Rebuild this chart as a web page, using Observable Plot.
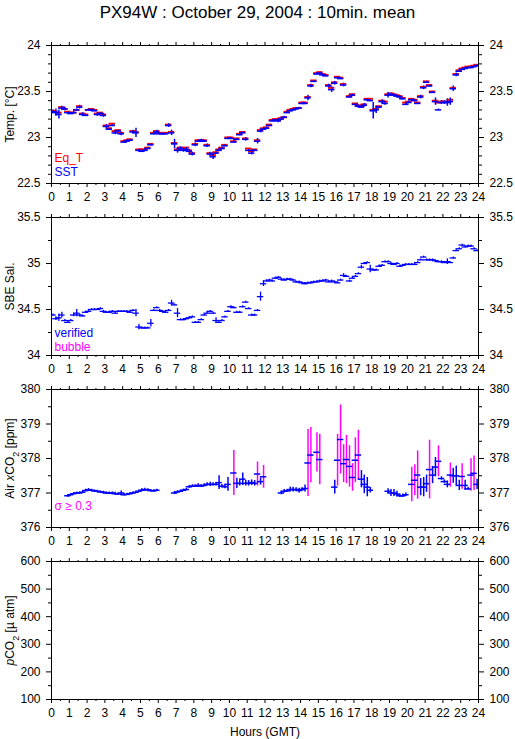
<!DOCTYPE html>
<html><head><meta charset="utf-8">
<script src="https://cdn.jsdelivr.net/npm/d3@7"></script>
<script src="https://cdn.jsdelivr.net/npm/@observablehq/plot@0.6"></script>
<style>
body{margin:0;background:#fff;font-family:"Liberation Sans",Arial,sans-serif;}
#title{height:33px;text-align:center;font-size:17px;line-height:25px;white-space:nowrap;}
svg{display:block}
</style></head><body>
<div id="title">PX94W : October 29, 2004 : 10min. mean</div>
<div id="charts"></div>
<script>
// ---------- tick labels ----------
const hourTicks = [0,1,2,3,4,5,6,7,8,9,10,11,12,13,14,15,16,17,18,19,20,21,22,23,24];
const halfHourTicks = [0.5,1.5,2.5,3.5,4.5,5.5,6.5,7.5,8.5,9.5,10.5,11.5,12.5,13.5,14.5,15.5,16.5,17.5,18.5,19.5,20.5,21.5,22.5,23.5];
const tempTicks = [22.5,23,23.5,24];
const tempMinor = [22.6,22.7,22.8,22.9,23.1,23.2,23.3,23.4,23.6,23.7,23.8,23.9];
const salTicks = [34,34.5,35,35.5];
const salMinor = [34.25,34.75,35.25];
const co2Ticks = [376,377,378,379,380];
const co2Minor = [376.5,377.5,378.5,379.5];
const pco2Ticks = [100,200,300,400,500,600];
const pco2Minor = [150,250,350,450,550];

// ---------- 10-minute sample times (hours GMT) ----------
const sampleHours = d3.range(144).map(i => (i + 0.5) / 6);

// ---------- SST / Eq_T (°C), one row per hour ----------
const sst = [
 23.28,23.27,23.25,23.32,23.31,23.27, 23.26,23.27,23.30,23.33,23.25,23.24,
 23.30,23.30,23.29,23.25,23.26,23.24, 23.12,23.09,23.13,23.05,23.07,23.04,
 22.95,22.96,22.97,23.06,23.05,22.86, 22.85,22.86,22.88,22.92,23.04,23.06,
 23.04,23.04,23.04,23.13,23.05,22.93, 22.86,22.88,22.86,22.87,22.85,22.82,
 22.92,22.96,22.97,22.96,22.91,22.82, 22.79,22.83,22.86,22.88,22.91,22.99,
 22.99,22.95,22.98,23.03,23.05,22.98, 22.86,22.83,22.86,22.96,23.07,23.09,
 23.10,23.13,23.18,23.19,23.18,23.20, 23.22,23.27,23.29,23.30,23.31,23.32,
 23.37,23.37,23.43,23.56,23.61,23.69, 23.70,23.68,23.67,23.56,23.52,23.59,
 23.65,23.64,23.57,null,23.44,23.46, 23.36,23.34,23.33,23.35,23.41,23.40,
 23.29,23.30,23.33,23.39,23.37,23.46, 23.47,23.46,23.45,23.44,23.42,23.36,
 23.38,23.41,23.40,23.37,23.44,23.54, 23.60,23.56,23.49,23.39,23.30,23.38,
 23.38,23.38,23.39,23.53,23.68,23.72, 23.74,23.75,23.76,23.76,23.77,23.78
];
const eqT = [
 23.29,23.28,23.27,23.33,23.31,23.28, 23.27,23.27,23.30,23.34,23.26,23.25,
 23.30,23.31,23.30,23.26,23.27,23.25, 23.13,23.10,23.15,23.07,23.08,23.05,
 22.96,22.97,22.98,23.07,23.06,22.87, 22.87,22.87,22.89,22.93,23.05,23.07,
 23.05,23.05,23.05,23.14,23.06,22.94, 22.87,22.89,22.88,22.89,22.86,22.83,
 22.93,22.97,22.97,22.97,22.92,22.83, 22.81,22.84,22.87,22.89,22.92,23.00,
 23.00,22.96,22.99,23.04,23.06,22.99, 22.88,22.85,22.87,22.97,23.08,23.10,
 23.11,23.14,23.19,23.20,23.19,23.21, 23.22,23.28,23.30,23.31,23.32,23.32,
 23.38,23.38,23.44,23.57,23.62,23.70, 23.71,23.69,23.68,23.57,23.54,23.60,
 23.66,23.65,23.58,null,23.45,23.47, 23.37,23.35,23.34,23.36,23.42,23.42,
 23.30,23.31,23.34,23.40,23.39,23.47, 23.48,23.47,23.46,23.45,23.43,23.38,
 23.39,23.42,23.41,23.38,23.45,23.55, 23.61,23.57,23.50,23.40,23.38,23.39,
 23.39,23.39,23.41,23.54,23.69,23.73, 23.75,23.76,23.77,23.77,23.78,23.79
];
const sstSd = [
 0.02,0.04,0.05,0.02,0.02,0.01, 0.01,0.01,0.01,0.02,0.02,0.01,
 0.01,0.01,0.01,0.02,0.01,0.02, 0.02,0.01,0.01,0.02,0.01,0.02,
 0.01,0.01,0.01,0.02,0.05,0.01, 0.01,0.01,0.01,0.01,0.01,0.02,
 0.01,0.01,0.01,0.02,0.03,0.05, 0.03,0.02,0.02,0.02,0.02,0.02,
 0.02,0.01,0.01,0.01,0.02,0.02, 0.03,0.01,0.01,0.01,0.01,0.01,
 0.01,0.01,0.01,0.01,0.01,0.02, 0.01,0.02,0.01,0.03,0.02,0.01,
 0.01,0.01,0.01,0.01,0.02,0.01, 0.01,0.01,0.01,0.01,0.01,0.01,
 0.01,0.01,0.03,0.02,0.01,0.01, 0.01,0.01,0.01,0.02,0.03,0.02,
 0.01,0.01,0.02,0.00,0.01,0.01, 0.01,0.01,0.01,0.02,0.01,0.01,
 0.09,0.04,0.01,0.02,0.02,0.03, 0.01,0.01,0.01,0.01,0.01,0.01,
 0.01,0.01,0.01,0.01,0.02,0.02, 0.01,0.01,0.01,0.04,0.01,0.02,
 0.02,0.04,0.04,0.03,0.02,0.01, 0.01,0.01,0.01,0.01,0.01,0.01
];

// ---------- SBE salinity ----------
const salinity = [
 34.44,34.40,34.41,34.44,34.38,34.36,34.38,34.44,34.46,34.44,
 34.43,34.47,34.48,34.50,34.50,34.50,34.51,34.48,34.47,34.47,
 34.48,34.46,34.48,34.48,34.48,34.48,34.47,34.49,34.46,34.31,
 34.30,34.30,34.30,34.35,34.49,34.52,34.49,34.48,34.47,34.49,
 34.57,34.55,34.46,34.39,34.39,34.40,34.41,34.42,34.36,34.36,
 34.39,34.44,34.46,34.48,34.46,34.38,34.36,34.38,34.42,34.48,
 34.53,34.52,34.47,34.47,34.53,34.58,34.51,34.44,34.44,34.49,
 34.64,34.78,34.81,34.82,34.81,34.84,34.85,34.83,34.82,34.83,
 34.83,34.82,34.80,34.80,34.79,34.78,34.79,34.79,34.80,34.80,
 34.81,34.81,34.82,34.80,34.81,34.80,34.79,34.82,34.87,34.86,
 34.81,34.84,34.86,34.89,34.96,35.00,35.01,34.94,34.93,34.93,
 34.97,34.98,35.02,35.02,35.00,34.99,35.00,34.97,34.98,34.99,
 34.99,34.99,34.99,35.01,35.04,35.07,35.04,35.04,35.04,35.03,
 35.02,35.02,35.01,35.02,35.01,35.06,35.14,35.16,35.20,35.18,
 35.19,35.19,35.16,35.14
];
const salinitySd = [
 0.01,0.02,0.04,0.03,0.01,0.01,0.01,0.02,0.04,0.01,
 0.01,0.01,0.01,0.01,0.01,0.01,0.01,0.01,0.01,0.01,
 0.01,0.01,0.01,0.01,0.01,0.01,0.01,0.01,0.04,0.03,
 0.01,0.01,0.01,0.04,0.01,0.01,0.01,0.01,0.01,0.01,
 0.03,0.01,0.05,0.01,0.01,0.01,0.01,0.01,0.01,0.01,
 0.01,0.01,0.01,0.01,0.01,0.03,0.01,0.01,0.01,0.01,
 0.01,0.01,0.01,0.01,0.01,0.01,0.01,0.01,0.01,0.01,
 0.05,0.03,0.01,0.01,0.01,0.01,0.01,0.01,0.01,0.01,
 0.01,0.01,0.01,0.01,0.01,0.01,0.01,0.01,0.01,0.01,
 0.01,0.01,0.01,0.01,0.01,0.01,0.01,0.01,0.02,0.01,
 0.01,0.01,0.01,0.01,0.02,0.01,0.01,0.04,0.01,0.01,
 0.01,0.01,0.01,0.01,0.01,0.01,0.01,0.01,0.01,0.01,
 0.01,0.01,0.01,0.01,0.01,0.01,0.01,0.01,0.01,0.01,
 0.01,0.01,0.01,0.03,0.01,0.01,0.01,0.01,0.01,0.01,
 0.01,0.01,0.01,0.01
];

// ---------- Air xCO2 (ppm) ----------
const co2Hours = [
 0.92,1.08,1.25,1.42,1.58,1.75,1.92,2.08,2.25,2.42,2.58,2.75,2.92,3.08,3.25,3.42,3.58,3.75,3.92,
 4.08,4.25,4.42,4.58,4.75,4.92,5.08,5.25,5.42,5.58,5.75,5.92,
 6.92,7.08,7.25,7.42,7.58,7.75,7.92,8.08,8.25,8.42,8.58,8.75,8.92,9.08,9.25,9.42,9.58,9.75,9.92,
 10.25,10.42,10.58,10.75,10.92,11.08,11.25,11.42,11.58,11.75,11.92,
 12.92,13.08,13.25,13.42,13.58,13.75,13.92,14.08,14.25,14.42,14.58,14.92,15.08,
 15.92,16.08,16.25,16.42,16.58,16.75,16.92,17.08,17.25,17.42,17.58,17.75,17.92,
 18.92,19.08,19.25,19.42,19.58,19.75,19.92,
 20.25,20.42,20.58,20.75,20.92,21.08,21.25,21.42,21.58,21.75,21.92,22.08,22.25,22.42,
 22.58,22.75,22.92,23.08,23.25,23.42,23.58,23.75,23.92
];
const co2 = [
 376.92,376.95,376.98,377.00,377.00,377.02,377.07,377.09,377.08,377.06,377.05,377.03,377.02,377.00,377.00,377.00,376.98,376.97,377.00,
 376.95,376.96,376.98,377.00,377.02,377.05,377.08,377.10,377.09,377.07,377.06,377.08,
 377.00,377.03,377.05,377.08,377.10,377.18,377.20,377.20,377.22,377.20,377.22,377.25,377.25,377.25,377.25,377.30,377.20,377.18,377.25,
 377.58,377.28,377.28,377.40,377.28,377.28,377.30,377.28,377.55,377.33,377.47,
 377.00,377.05,377.06,377.10,377.10,377.10,377.07,377.10,377.13,377.87,378.10,378.18,377.97,
 377.17,377.95,378.55,377.85,377.97,377.77,377.45,377.95,378.10,377.40,377.25,377.17,377.08,
 377.05,377.00,377.00,376.97,376.92,376.92,376.95,
 377.25,377.37,377.52,377.17,377.17,377.27,377.68,377.52,377.75,377.92,377.42,377.33,377.25,377.52,
 377.50,377.50,377.22,377.48,377.22,377.12,377.52,377.57,377.25
];
const co2Sd = [
 0.04,0.03,0.03,0.03,0.03,0.03,0.04,0.04,0.03,0.03,0.03,0.03,0.03,0.03,0.03,0.03,0.04,0.03,0.06,
 0.04,0.03,0.03,0.03,0.03,0.03,0.04,0.04,0.03,0.03,0.03,0.03,
 0.04,0.03,0.03,0.03,0.03,0.04,0.04,0.04,0.05,0.04,0.04,0.05,0.06,0.05,0.05,0.20,0.05,0.06,0.20,
 0.65,0.15,0.08,0.18,0.08,0.08,0.08,0.08,0.35,0.10,0.33,
 0.05,0.05,0.04,0.07,0.07,0.05,0.07,0.05,0.10,0.97,0.80,0.57,0.73,
 0.20,0.75,1.00,0.55,0.70,0.60,0.40,0.65,0.72,0.25,0.27,0.28,0.08,
 0.07,0.10,0.10,0.08,0.05,0.05,0.05,
 0.50,0.45,0.70,0.25,0.28,0.25,0.85,0.25,0.28,0.45,0.05,0.05,0.10,0.35,
 0.22,0.28,0.15,0.37,0.15,0.05,0.47,0.50,0.15
];

// ---------- colours ----------
const BLUE = "#0000ff", RED = "#ff0000", MAGENTA = "#ff00ff";
const HALF = 0.18; // half-width (hours) of each 10-min bar

const tempData = sampleHours.map((t, i) => ({t, sst: sst[i], eq: eqT[i], sd: sstSd[i]})).filter(d => d.sst != null);
const salData = sampleHours.map((t, i) => ({t, s: salinity[i], sd: salinitySd[i]}));
const co2Data = co2Hours.map((t, i) => ({t, v: co2[i], sd: co2Sd[i]}));

function axes(major, minor, label, last) {
  const blank = () => "";
  return [
    Plot.axisX({anchor: "bottom", ticks: hourTicks, tickSize: 4, tickPadding: 5, tickFormat: d => String(d),
      label: last ? "Hours (GMT)" : null, labelAnchor: "center", labelArrow: "none", labelOffset: 36}),
    Plot.axisX({anchor: "bottom", ticks: halfHourTicks, tickSize: 2, tickFormat: blank, label: null}),
    Plot.axisX({anchor: "top", ticks: hourTicks, tickSize: 4, tickFormat: blank, label: null}),
    Plot.axisX({anchor: "top", ticks: halfHourTicks, tickSize: 2, tickFormat: blank, label: null}),
    Plot.axisY({anchor: "left", ticks: major, tickSize: 5, tickPadding: 6, tickFormat: d => String(d),
      label, labelAnchor: "center", labelArrow: "none", labelOffset: 46}),
    Plot.axisY({anchor: "left", ticks: minor, tickSize: 3, tickFormat: blank, label: null}),
    Plot.axisY({anchor: "right", ticks: major, tickSize: 5, tickPadding: 6, tickFormat: d => String(d), label: null}),
    Plot.axisY({anchor: "right", ticks: minor, tickSize: 3, tickFormat: blank, label: null}),
    Plot.frame({stroke: "black", strokeWidth: 1})
  ];
}

function panel(domain, major, minor, label, marks, last) {
  return Plot.plot({
    width: 515,
    height: last ? 190 : 172,
    marginLeft: 51, marginRight: 37, marginTop: 12, marginBottom: last ? 40 : 22,
    x: {domain: [0, 24]},
    y: {domain},
    style: {fontFamily: '"Liberation Sans", Arial, sans-serif', fontSize: "12px", color: "black", background: "white", overflow: "visible"},
    marks: [...marks, ...axes(major, minor, label, last)]
  });
}

function legend(text, color, dy) {
  return Plot.text([text], {text: d => d, frameAnchor: "bottom-left", textAnchor: "start", lineAnchor: "middle",
    dx: 3, dy, fill: color, fontSize: 12});
}

function richLabel(svg, parts) {
  const t = svg.querySelector('[aria-label="y-axis label"] text');
  if (!t) return;
  t.textContent = "";
  for (const p of parts) {
    const s = document.createElementNS("http://www.w3.org/2000/svg", "tspan");
    s.textContent = p.text;
    if (p.italic) s.setAttribute("font-style", "italic");
    if (p.sub) { s.setAttribute("baseline-shift", "sub"); s.setAttribute("font-size", "9"); }
    t.appendChild(s);
  }
}

const c = document.getElementById("charts");

const p1 = panel([22.5, 24], tempTicks, tempMinor, "Temp. [°C]", [
  Plot.ruleY(tempData, {y: "eq", x1: d => d.t - HALF, x2: d => d.t + HALF, stroke: RED, strokeWidth: 2, clip: true}),
  Plot.ruleX(tempData, {x: "t", y1: d => d.sst - d.sd, y2: d => d.sst + d.sd, stroke: BLUE, strokeWidth: 1.5, clip: true}),
  Plot.ruleY(tempData, {y: "sst", x1: d => d.t - HALF, x2: d => d.t + HALF, stroke: BLUE, strokeWidth: 1.5, clip: true}),
  legend("Eq_T", RED, -25),
  legend("SST", BLUE, -11)
]);
c.appendChild(p1);

const p2 = panel([34, 35.5], salTicks, salMinor, "SBE Sal.", [
  Plot.ruleX(salData, {x: "t", y1: d => d.s - d.sd, y2: d => d.s + d.sd, stroke: BLUE, strokeWidth: 1.3, clip: true}),
  Plot.ruleY(salData, {y: "s", x1: d => d.t - HALF, x2: d => d.t + HALF, stroke: BLUE, strokeWidth: 1.3, clip: true}),
  legend("verified", BLUE, -22),
  legend("bubble", MAGENTA, -8)
]);
c.appendChild(p2);

const p3 = panel([376, 380], co2Ticks, co2Minor, "Air xCO2 [ppm]", [
  Plot.ruleX(co2Data, {x: "t", y1: d => d.v - d.sd, y2: d => d.v + d.sd, stroke: d => d.sd >= 0.3 ? MAGENTA : BLUE, strokeWidth: 1.5, clip: true}),
  Plot.ruleY(co2Data, {y: "v", x1: d => d.t - HALF, x2: d => d.t + HALF, stroke: BLUE, strokeWidth: 1.5, clip: true}),
  legend("σ ≥ 0.3", MAGENTA, -21)
]);
richLabel(p3, [{text: "Air "}, {text: "x", italic: true}, {text: "CO"}, {text: "2", sub: true}, {text: " [ppm]"}]);
c.appendChild(p3);

const p4 = panel([100, 600], pco2Ticks, pco2Minor, "pCO2 [µ atm]", [], true);
richLabel(p4, [{text: "p", italic: true}, {text: "CO"}, {text: "2", sub: true}, {text: " [µ atm]"}]);
c.appendChild(p4);
</script>
</body></html>
